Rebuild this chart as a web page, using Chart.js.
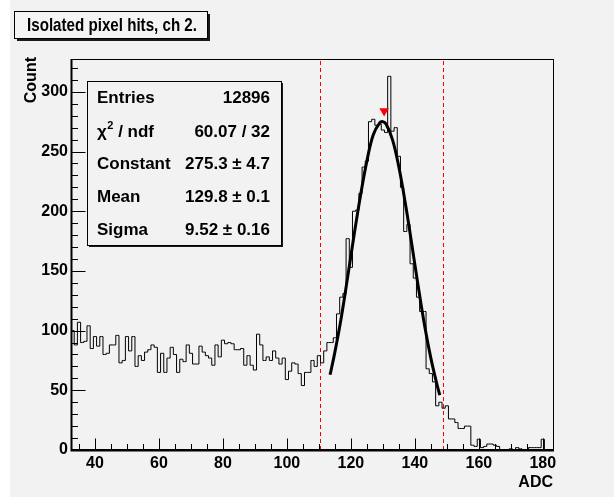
<!DOCTYPE html>
<html>
<head>
<meta charset="utf-8">
<script src="https://cdn.jsdelivr.net/npm/chart.js@4.4.1/dist/chart.umd.min.js"></script>
<style>
  html, body { margin: 0; padding: 0; background: #f2f2f2; }
  canvas { display: block; }
</style>
</head>
<body>
<canvas id="c" width="614" height="497"></canvas>
<script>
// ---------- data ----------
const firstBinCenter = 33;           // ADC bin centres 33 ... 183, width 1
const counts = [
  100, 88,107, 90, 91,104, 85, 95, 87, 95,   // 33-42
   80, 81, 88, 88, 96, 73, 75, 95, 83, 95,   // 43-52
   70, 79, 75, 82, 84, 88, 86, 65, 81, 65,   // 53-62
   77, 86, 80, 65, 76, 74, 88, 81, 72, 72,   // 63-72
   87, 82, 79, 77, 71, 88, 78, 92, 89, 90,   // 73-82
   89, 84, 84, 85, 71, 79, 71, 67, 97, 88,   // 83-92
   75, 78, 75, 83, 77, 72, 77, 59, 66, 73,   // 93-102
   72, 64, 54, 65, 65, 75, 70, 79, 73, 83,   // 103-112
   90, 90, 94,114,128,131,177,153,200,201,   // 113-122
  215,237,242,275,277,272,273,268,266,313,   // 123-132
  267,270,246,220,183,189,156,144,128,116,   // 133-142
  116, 68, 64, 57, 37, 40, 35, 37, 26, 26,   // 143-152
   23, 18, 18, 20, 20,  4,  3,  9,  2,  3,   // 153-162
    5,  5,  4,  3,  0,  0,  0,  1,  0,  2,   // 163-172
    1,  0,  0,  2,  2,  2,  2,  9,  0,  0,   // 173-182
    0                                        // 183
];
// fitted gaussian curve
const fitX = [113.5, 115, 117, 119, 121, 123, 125, 127, 129, 130, 131, 133, 135, 137, 139, 141, 143, 145, 147, 147.8];
const fitY = [   63,  82, 111, 145, 180, 213, 242, 264, 274, 275, 273, 260, 237, 207, 173, 138, 105,  77,  54,   46];
// peak marker
const peakX = [130.4];
const peakY = [284];
// fit-range dashed lines
const rangeLines = [110.5, 148.8];
// axes
const xTickLabels = [40, 60, 80, 100, 120, 140, 160, 180];
const yTickLabels = [0, 50, 100, 150, 200, 250, 300];
const xRange = [32.5, 183.5];
const yRange = [0, 327.5];
// texts
const titleText = 'Isolated pixel hits, ch 2.';
const xTitle = 'ADC';
const yTitle = 'Count';
const statNames  = ['Entries', 'χ2 / ndf', 'Constant', 'Mean', 'Sigma'];
const statValues = ['12896', '60.07 / 32', '275.3 ± 4.7', '129.8 ± 0.1', '9.52 ± 0.16'];

// ---------- build ----------
const histPoints = [{x: xRange[0], y: counts[0]}];
counts.forEach((v, i) => histPoints.push({x: firstBinCenter + i, y: v}));
histPoints.push({x: xRange[1], y: counts[counts.length - 1]});
const fitPoints = fitX.map((x, i) => ({x, y: fitY[i]}));
const peakPoints = peakX.map((x, i) => ({x, y: peakY[i]}));

const FONT = "'Liberation Sans', Arial, Helvetica, sans-serif";
const W = 614, H = 497;

function drawScaledText(ctx, text, x, y, targetW, align) {
  const w = ctx.measureText(text).width;
  const sx = targetW ? targetW / w : 1;
  ctx.save();
  ctx.translate(x, y);
  ctx.scale(sx, 1);
  ctx.textAlign = align || 'left';
  ctx.fillText(text, 0, 0);
  ctx.restore();
}

const bgPlugin = {
  id: 'bg',
  beforeDraw(chart) {
    const c = chart.ctx;
    c.save();
    c.fillStyle = '#f2f2f2';
    c.fillRect(0, 0, W, H);
    c.fillStyle = '#ffffff';
    c.fillRect(0, 0, 10, H);
    c.restore();
  }
};

const linesPlugin = {
  id: 'rangeLines',
  beforeDatasetsDraw(chart) {
    const c = chart.ctx, a = chart.chartArea, xs = chart.scales.x;
    c.save();
    c.strokeStyle = '#ff0000';
    c.lineWidth = 1;
    c.setLineDash([4, 3]);
    rangeLines.forEach(v => {
      const px = Math.round(xs.getPixelForValue(v)) + 0.5;
      c.beginPath();
      c.moveTo(px, a.bottom);
      c.lineTo(px, a.top);
      c.stroke();
    });
    c.restore();
  }
};

const framePlugin = {
  id: 'frame',
  afterDatasetsDraw(chart) {
    const c = chart.ctx, a = chart.chartArea, xs = chart.scales.x, ys = chart.scales.y;
    c.save();
    c.strokeStyle = '#000';
    c.lineWidth = 1;
    c.strokeRect(a.left + 0.5, a.top + 0.5, a.right - a.left - 1, a.bottom - a.top - 1);
    // ticks
    const xMajLen = 11.5, xMinLen = 6, yMajLen = 14.5, yMinLen = 7;
    c.beginPath();
    for (let v = 35; v <= xRange[1]; v += 5) {
      const px = Math.round(xs.getPixelForValue(v)) + 0.5;
      const len = (v % 20 === 0) ? xMajLen : xMinLen;
      c.moveTo(px, a.bottom);
      c.lineTo(px, a.bottom - len);
    }
    for (let v = 0; v <= yRange[1]; v += 10) {
      const py = Math.round(ys.getPixelForValue(v)) + 0.5;
      const len = (v % 50 === 0) ? yMajLen : yMinLen;
      c.moveTo(a.left, py);
      c.lineTo(a.left + len, py);
    }
    c.stroke();
    // thicker axes
    c.lineWidth = 2;
    c.beginPath();
    c.moveTo(a.left + 0.5, a.top);
    c.lineTo(a.left + 0.5, a.bottom + 0.5);
    c.lineTo(a.right, a.bottom + 0.5);
    c.stroke();
    c.restore();
  },
  afterDraw(chart) {
    const c = chart.ctx;
    c.save();
    c.fillStyle = '#000';
    // axis titles
    c.font = 'bold 16px ' + FONT;
    c.textBaseline = 'alphabetic';
    c.textAlign = 'right';
    c.fillText(xTitle, 553, 487);
    c.save();
    c.translate(36, 57);
    c.rotate(-Math.PI / 2);
    c.textAlign = 'right';
    c.fillText(yTitle, 0, 0);
    c.restore();

    // title box
    const tb = {x: 14, y: 11, w: 193, h: 27};
    c.fillStyle = '#1a1a1a';
    c.fillRect(tb.x + 3, tb.y + 3, tb.w, tb.h);
    c.fillStyle = '#f4f4f4';
    c.fillRect(tb.x, tb.y, tb.w, tb.h);
    c.strokeStyle = '#000';
    c.lineWidth = 1;
    c.strokeRect(tb.x + 0.5, tb.y + 0.5, tb.w, tb.h);
    c.fillStyle = '#000';
    c.font = 'bold 18.5px ' + FONT;
    drawScaledText(c, titleText, 27, 31, 170, 'left');

    // stats box
    const sb = {x: 87, y: 81, w: 194, h: 164};
    c.fillStyle = '#1a1a1a';
    c.fillRect(sb.x + 2, sb.y + 2, sb.w, sb.h);
    c.fillStyle = '#f2f2f2';
    c.fillRect(sb.x, sb.y, sb.w, sb.h);
    c.strokeStyle = '#000';
    c.strokeRect(sb.x + 0.5, sb.y + 0.5, sb.w, sb.h);
    c.fillStyle = '#000';
    const baselines = [103, 137, 169, 202, 235];
    statNames.forEach((name, i) => {
      const yb = baselines[i];
      c.font = 'bold 17px ' + FONT;
      c.textAlign = 'left';
      if (name.startsWith('χ2')) {
        c.fillText('χ', 97, yb);
        let x = 97 + c.measureText('χ').width;
        c.font = 'bold 11px ' + FONT;
        c.fillText('2', x + 0.5, yb - 8);
        x += c.measureText('2').width + 0.5;
        c.font = 'bold 17px ' + FONT;
        c.fillText(name.slice(2), x, yb);
      } else {
        c.fillText(name, 97, yb);
      }
      c.textAlign = 'right';
      c.fillText(statValues[i], 270, yb);
    });
    c.restore();
  }
};

new Chart(document.getElementById('c'), {
  type: 'line',
  data: {
    datasets: [
      {
        label: 'hist',
        data: histPoints,
        stepped: 'middle',
        borderColor: '#000',
        borderWidth: 1,
        pointRadius: 0,
        fill: false,
        order: 3
      },
      {
        label: 'fit',
        data: fitPoints,
        borderColor: '#000',
        borderWidth: 3,
        pointRadius: 0,
        tension: 0.4,
        fill: false,
        order: 2
      },
      {
        label: 'peak',
        data: peakPoints,
        showLine: false,
        pointStyle: 'triangle',
        rotation: 180,
        pointRadius: 5.5,
        backgroundColor: '#ff0000',
        borderColor: '#ff0000',
        borderWidth: 0,
        order: 1
      }
    ]
  },
  options: {
    responsive: false,
    animation: false,
    events: [],
    layout: { padding: { left: 0, right: 60, top: 59, bottom: 0 } },
    plugins: { legend: { display: false }, tooltip: { enabled: false }, title: { display: false } },
    scales: {
      x: {
        type: 'linear',
        min: xRange[0], max: xRange[1],
        afterFit(s) { s.height = 47; },
        afterBuildTicks(s) { s.ticks = xTickLabels.map(v => ({ value: v })); },
        grid: { display: false, drawTicks: false },
        border: { display: false },
        ticks: { color: '#000', font: { family: FONT, size: 16, weight: 'bold' }, padding: 4, maxRotation: 0, autoSkip: false }
      },
      y: {
        type: 'linear',
        min: yRange[0], max: yRange[1],
        afterFit(s) { s.width = 71; },
        afterBuildTicks(s) { s.ticks = yTickLabels.map(v => ({ value: v })); },
        grid: { display: false, drawTicks: false },
        border: { display: false },
        ticks: { color: '#000', font: { family: FONT, size: 16, weight: 'bold' }, padding: 3, autoSkip: false }
      }
    }
  },
  plugins: [bgPlugin, linesPlugin, framePlugin]
});
</script>
</body>
</html>
